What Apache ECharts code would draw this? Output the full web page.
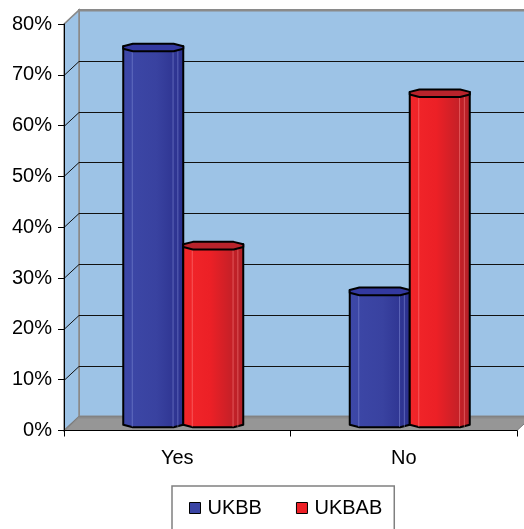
<!DOCTYPE html>
<html>
<head>
<meta charset="utf-8">
<style>
  html, body { margin: 0; padding: 0; background: #ffffff; }
  #chart { width: 524px; height: 529px; }
</style>
<script src="https://cdn.jsdelivr.net/npm/echarts@6/dist/echarts.min.js"></script>
</head>
<body>
<div id="chart"></div>
<script>
// Survey answers by group
const categories = ['Yes', 'No'];
const ukbbValues = [0.74, 0.26];
const ukbabValues = [0.35, 0.65];
const yTicks = [0, 0.1, 0.2, 0.3, 0.4, 0.5, 0.6, 0.7, 0.8];

const FONT = "'Liberation Sans', Arial, sans-serif";
// depth offset of the back wall, and of the bars (which stand mid-depth)
const WALL_DX = 15, WALL_DY = -14;
const BAR_DX = 6, BAR_DY = -7;
const BAR_FRAC = 60 / 226.5;

const chart = echarts.init(document.getElementById('chart'), null, { renderer: 'canvas' });

// back wall, side wall and floor
function renderWalls(params, api) {
  const cs = params.coordSys;
  const x = cs.x, y = cs.y, w = cs.width, h = cs.height;
  const b = y + h;
  return {
    type: 'group',
    children: [
      { type: 'polygon', shape: { points: [[x + WALL_DX, y + WALL_DY], [x + w + WALL_DX, y + WALL_DY], [x + w + WALL_DX, b + WALL_DY], [x + WALL_DX, b + WALL_DY]] },
        style: { fill: '#9DC3E6', stroke: '#8a8a8a', lineWidth: 2 } },
      { type: 'polygon', shape: { points: [[x, y], [x + WALL_DX, y + WALL_DY], [x + WALL_DX, b + WALL_DY], [x, b]] },
        style: { fill: '#9DC3E6', stroke: '#8a8a8a', lineWidth: 1.5 } },
      { type: 'polygon', shape: { points: [[x, b], [x + WALL_DX, b + WALL_DY], [x + w + WALL_DX, b + WALL_DY], [x + w, b]] },
        style: { fill: '#969696', stroke: '#7a7a7a', lineWidth: 1 } }
    ]
  };
}

// gridlines on the back wall and the side wall
function renderGrid(params, api) {
  const cs = params.coordSys;
  const v = api.value(0);
  const yy = Math.round(api.coord([0, v])[1] + WALL_DY) + 0.5;
  const edge = v === 0 || v === 0.8;
  const col = edge ? '#8a8a8a' : '#111111';
  return {
    type: 'group',
    children: [
      { type: 'line', shape: { x1: cs.x + WALL_DX, y1: yy, x2: cs.x + cs.width + WALL_DX, y2: yy },
        style: { stroke: col, lineWidth: edge ? 2 : 1 } },
      { type: 'line', shape: { x1: cs.x, y1: yy - WALL_DY, x2: cs.x + WALL_DX, y2: yy },
        style: { stroke: col, lineWidth: 1 } }
    ]
  };
}

// octagonal prism bar
const FX = [1, 0.68, -0.68, -1, -1, -0.68, 0.68, 1];
const FY = [0.35, 1, 1, 0.35, -0.35, -1, -1, -0.35];
function makeBar(side, body, topFill, facet) {
  return function (params, api) {
    const cat = api.value(0);
    const val = api.value(1);
    const p = api.coord([cat, val]);
    const p0 = api.coord([cat, 0]);
    const bw = api.size([1, 0])[0] * BAR_FRAC;
    const cx = p[0] + side * bw / 2 + BAR_DX;
    const rx = bw / 2, ry = 3.8;
    const yt = p[1] + BAR_DY, yb = p0[1] + BAR_DY;
    const top = FX.map((f, i) => [cx + f * rx, yt + FY[i] * ry]);
    const bot = FX.map((f, i) => [cx + f * rx, yb + FY[i] * ry]);
    const children = [
      { type: 'polygon', shape: { points: [top[7], bot[0], bot[1], bot[2], bot[3], top[4]] },
        style: { fill: { type: 'linear', x: 0, y: 0, x2: 1, y2: 0, colorStops: body }, stroke: '#000', lineWidth: 2, lineJoin: 'round' } }
    ];
    [-0.7, 0.66, 0.82].forEach(f => {
      children.push({ type: 'line', shape: { x1: cx + f * rx, y1: yt + ry * 0.9, x2: cx + f * rx, y2: yb + ry * 0.9 },
        style: { stroke: facet, lineWidth: 1 } });
    });
    children.push({ type: 'polygon', shape: { points: top },
      style: { fill: topFill, stroke: '#000', lineWidth: 2, lineJoin: 'round' } });
    return { type: 'group', children };
  };
}

const blueBody = [{ offset: 0, color: '#3D48A8' }, { offset: 0.55, color: '#3942A0' }, { offset: 1, color: '#2A2F8C' }];
const redBody = [{ offset: 0, color: '#F2262A' }, { offset: 0.45, color: '#EC2026' }, { offset: 1, color: '#B02028' }];

chart.setOption({
  backgroundColor: '#ffffff',
  animation: false,
  grid: { left: 64, top: 24, width: 453, height: 406.5, containLabel: false },
  xAxis: {
    type: 'category',
    data: categories,
    z: 5,
    axisLine: { show: true, lineStyle: { color: '#000', width: 1 } },
    axisTick: { show: true, length: 6, lineStyle: { color: '#000' } },
    axisLabel: { fontSize: 20, fontFamily: FONT, color: '#000', margin: 18 },
    splitLine: { show: false }
  },
  yAxis: {
    type: 'value',
    min: 0, max: 0.8, interval: 0.1,
    z: 5,
    axisLine: { show: true, lineStyle: { color: '#000', width: 1 } },
    axisTick: { show: true, length: 6, lineStyle: { color: '#000' } },
    axisLabel: { fontSize: 20, fontFamily: FONT, color: '#000', margin: 12,
      formatter: v => Math.round(v * 100) + '%' },
    splitLine: { show: false }
  },
  legend: {
    left: 172, top: 486,
    orient: 'horizontal',
    padding: [12, 12, 30, 17],
    itemGap: 34,
    itemWidth: 11, itemHeight: 11,
    borderColor: '#808080', borderWidth: 1.5,
    backgroundColor: '#ffffff',
    textStyle: { fontSize: 20, fontFamily: FONT, color: '#000', padding: [0, 0, 0, 2] },
    data: [
      { name: 'UKBB', icon: 'rect', itemStyle: { color: '#3A44A4', borderColor: '#000', borderWidth: 1 } },
      { name: 'UKBAB', icon: 'rect', itemStyle: { color: '#EE2026', borderColor: '#000', borderWidth: 1 } }
    ]
  },
  series: [
    { type: 'custom', name: 'walls', renderItem: renderWalls, data: [[0]], z: 1, silent: true, legendHoverLink: false },
    { type: 'custom', name: 'grid', renderItem: renderGrid, data: yTicks.map(v => [v]), encode: { y: 0 }, z: 1, silent: true },
    { type: 'custom', name: 'UKBB', renderItem: makeBar(-1, blueBody, '#3339A0', 'rgba(130,140,215,0.55)'),
      data: ukbbValues.map((v, i) => [i, v]), encode: { x: 0, y: 1 }, itemStyle: { color: '#3A44A4' }, z: 2 },
    { type: 'custom', name: 'UKBAB', renderItem: makeBar(1, redBody, '#B8232B', 'rgba(255,140,140,0.5)'),
      data: ukbabValues.map((v, i) => [i, v]), encode: { x: 0, y: 1 }, itemStyle: { color: '#EE2026' }, z: 2 }
  ]
});
</script>
</body>
</html>
